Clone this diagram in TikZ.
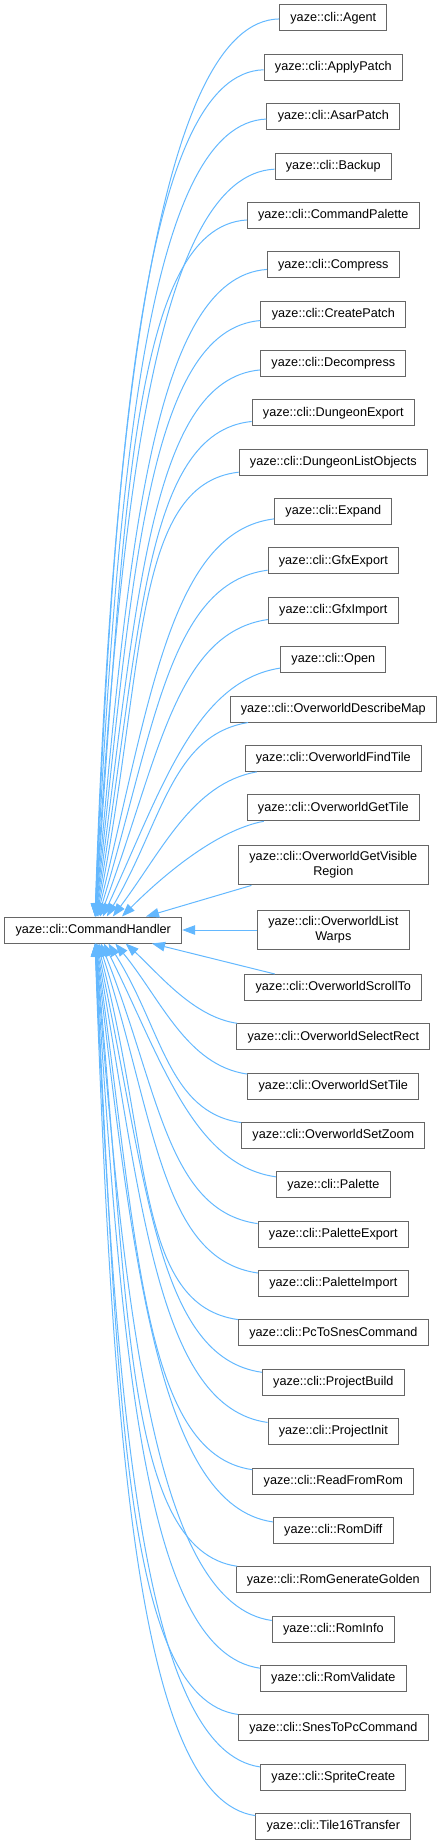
\documentclass[tikz,border=0pt]{standalone}
\usepackage{fontspec}
\setmainfont{Liberation Sans}
\usetikzlibrary{arrows.meta,calc}
\definecolor{edgeblue}{HTML}{63B8FF}
\definecolor{boxgray}{HTML}{666666}
\tikzset{
  cls/.style={draw=boxgray, line width=1pt, fill=white, inner xsep=10.8pt, inner ysep=6.5pt,
    minimum height=26pt, align=center, font=\fontsize{12.65pt}{15pt}\selectfont, text=black},
  inh/.style={draw=edgeblue, line width=1pt, -{Triangle[length=13pt,width=9.5pt]}},
}
\begin{document}
\begin{tikzpicture}[x=1pt,y=-1pt]
\useasboundingbox (0,0) rectangle (442,1844);
\node[cls] (ch) at (93.2,930) {yaze::cli::CommandHandler};
\node[cls] (n0) at (333.3,18) {yaze::cli::Agent};
\node[cls] (n1) at (333.3,67.36) {yaze::cli::ApplyPatch};
\node[cls] (n2) at (333.3,116.72) {yaze::cli::AsarPatch};
\node[cls] (n3) at (333.3,166.08) {yaze::cli::Backup};
\node[cls] (n4) at (333.3,215.44) {yaze::cli::CommandPalette};
\node[cls] (n5) at (333.3,264.8) {yaze::cli::Compress};
\node[cls] (n6) at (333.3,314.16) {yaze::cli::CreatePatch};
\node[cls] (n7) at (333.3,363.52) {yaze::cli::Decompress};
\node[cls] (n8) at (333.3,412.88) {yaze::cli::DungeonExport};
\node[cls] (n9) at (333.3,462.24) {yaze::cli::DungeonListObjects};
\node[cls] (n10) at (333.3,511.6) {yaze::cli::Expand};
\node[cls] (n11) at (333.3,560.96) {yaze::cli::GfxExport};
\node[cls] (n12) at (333.3,610.32) {yaze::cli::GfxImport};
\node[cls] (n13) at (333.3,659.68) {yaze::cli::Open};
\node[cls] (n14) at (333.3,709.04) {yaze::cli::OverworldDescribeMap};
\node[cls] (n15) at (333.3,758.4) {yaze::cli::OverworldFindTile};
\node[cls] (n16) at (333.3,807.76) {yaze::cli::OverworldGetTile};
\node[cls] (n17) at (333.3,865) {yaze::cli::OverworldGetVisible\\Region};
\node[cls] (n18) at (333.3,930) {yaze::cli::OverworldList\\Warps};
\node[cls] (n19) at (333.3,987.5) {yaze::cli::OverworldScrollTo};
\node[cls] (n20) at (333.3,1036.8) {yaze::cli::OverworldSelectRect};
\node[cls] (n21) at (333.3,1086.16) {yaze::cli::OverworldSetTile};
\node[cls] (n22) at (333.3,1135.52) {yaze::cli::OverworldSetZoom};
\node[cls] (n23) at (333.3,1184.88) {yaze::cli::Palette};
\node[cls] (n24) at (333.3,1234.24) {yaze::cli::PaletteExport};
\node[cls] (n25) at (333.3,1283.6) {yaze::cli::PaletteImport};
\node[cls] (n26) at (333.3,1332.96) {yaze::cli::PcToSnesCommand};
\node[cls] (n27) at (333.3,1382.32) {yaze::cli::ProjectBuild};
\node[cls] (n28) at (333.3,1431.68) {yaze::cli::ProjectInit};
\node[cls] (n29) at (333.3,1481.04) {yaze::cli::ReadFromRom};
\node[cls] (n30) at (333.3,1530.4) {yaze::cli::RomDiff};
\node[cls] (n31) at (333.3,1579.76) {yaze::cli::RomGenerateGolden};
\node[cls] (n32) at (333.3,1629.12) {yaze::cli::RomInfo};
\node[cls] (n33) at (333.3,1678.48) {yaze::cli::RomValidate};
\node[cls] (n34) at (333.3,1727.84) {yaze::cli::SnesToPcCommand};
\node[cls] (n35) at (333.3,1777.2) {yaze::cli::SpriteCreate};
\node[cls] (n36) at (333.3,1826.56) {yaze::cli::Tile16Transfer};
% upper edges
\foreach \i in {0,...,16}{
  \pgfmathsetmacro{\yc}{18+49.36*\i}
  \pgfmathsetmacro{\dd}{917-\yc}
  \pgfmathsetmacro{\gm}{1+9.5*\i/16}
  \pgfmathtruncatemacro{\ang}{round(180+\gm)}
  \pgfmathsetmacro{\dx}{95+27*exp(-(\dd-109)/120)-93.2}
  \pgfmathsetmacro{\ph}{90-45*exp(-(\dd-109)/250)}
  \pgfmathsetmacro{\ca}{120-70*exp(-(\dd-109)/200)}
  \pgfmathsetmacro{\cb}{0.575*\dd-10}
  \draw[inh] (n\i.\ang) .. controls +({-\ca*cos(\gm)},{\ca*sin(\gm)}) and +({\cb*cos(\ph)},{-\cb*sin(\ph)}) .. ([xshift=\dx pt]ch.north);
}
% lower edges
\foreach \i in {20,...,36}{
  \pgfmathsetmacro{\yc}{1036.8+49.36*(\i-20)}
  \pgfmathsetmacro{\dd}{\yc-943}
  \pgfmathsetmacro{\gm}{8}
  \pgfmathtruncatemacro{\ang}{round(180-\gm)}
  \pgfmathsetmacro{\dx}{95+27*exp(-(\dd-109)/120)-93.2}
  \pgfmathsetmacro{\ph}{90-45*exp(-(\dd-109)/250)}
  \pgfmathsetmacro{\ca}{120-70*exp(-(\dd-109)/200)}
  \pgfmathsetmacro{\cb}{0.575*\dd-10}
  \draw[inh] (n\i.\ang) .. controls +({-\ca*cos(\gm)},{-\ca*sin(\gm)}) and +({\cb*cos(\ph)},{\cb*sin(\ph)}) .. ([xshift=\dx pt]ch.south);
}
% middle edges
\draw[inh] (n17.194) -- ([xshift=52.8pt]ch.north);
\draw[inh] (n18.west) -- (ch.east);
\draw[inh] (n19.167) -- ([xshift=58.8pt]ch.south);
\end{tikzpicture}
\end{document}
